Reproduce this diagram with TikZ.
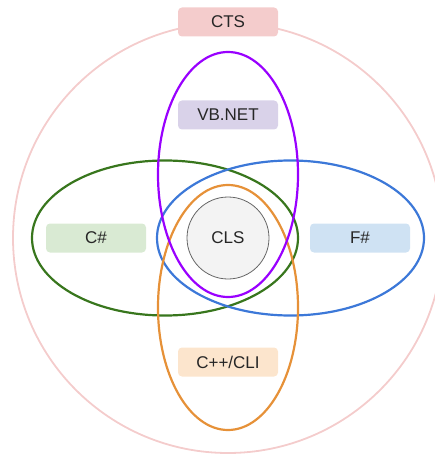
\documentclass[tikz,border=0pt]{standalone}
\usepackage{fontspec}
\setmainfont{Liberation Sans}
\usetikzlibrary{shapes.geometric}

\definecolor{ctsline}{HTML}{F4CCCC}
\definecolor{ctsfill}{HTML}{F4CCCC}
\definecolor{vbline}{HTML}{9900FF}
\definecolor{vbfill}{HTML}{D9D2E9}
\definecolor{csline}{HTML}{38761D}
\definecolor{csfill}{HTML}{D9EAD3}
\definecolor{fsline}{HTML}{3C78D8}
\definecolor{fsfill}{HTML}{CFE2F3}
\definecolor{cppline}{HTML}{E69138}
\definecolor{cppfill}{HTML}{FCE5CD}
\definecolor{clsfill}{HTML}{F3F3F3}
\definecolor{clsline}{HTML}{666666}
\definecolor{txt}{HTML}{262626}

\begin{document}
\begin{tikzpicture}[x=1pt, y=-1pt, font=\fontsize{17}{20}\selectfont, text=txt,
  lang/.style={rounded corners=4pt, minimum width=100pt, minimum height=29pt, inner sep=0pt},
  ring/.style={ellipse, draw, line width=2.2pt, inner sep=0pt}]
  \useasboundingbox (0,0) rectangle (435,454);
  \clip (0,0) rectangle (435,454);

  % Common Type System
  \node[circle, draw=ctsline, line width=1.8pt, minimum size=430pt, inner sep=0pt] (cts) at (228,238) {};
  \node[lang, fill=ctsfill] (ctslabel) at (228,22) {CTS};

  % languages
  \node[ring, draw=csline, minimum width=266pt, minimum height=155pt] (csring) at (165,238) {};
  \node[ring, draw=fsline, minimum width=267pt, minimum height=155pt] (fsring) at (290.5,238) {};
  \node[ring, draw=cppline, minimum width=140pt, minimum height=245pt] (cppring) at (228,307.5) {};
  \node[ring, draw=vbline, minimum width=140pt, minimum height=245pt] (vbring) at (228,174.5) {};

  % Common Language Specification
  \node[circle, draw=clsline, fill=clsfill, line width=0.8pt, minimum size=82pt, inner sep=0pt] (cls) at (228,238) {CLS};

  \node[lang, fill=vbfill] (vb) at (228,115) {VB.NET};
  \node[lang, fill=csfill] (cs) at (96,238) {C\#};
  \node[lang, fill=fsfill] (fs) at (360,238) {F\#};
  \node[lang, fill=cppfill] (cpp) at (228,362) {C++/CLI};
\end{tikzpicture}
\end{document}
